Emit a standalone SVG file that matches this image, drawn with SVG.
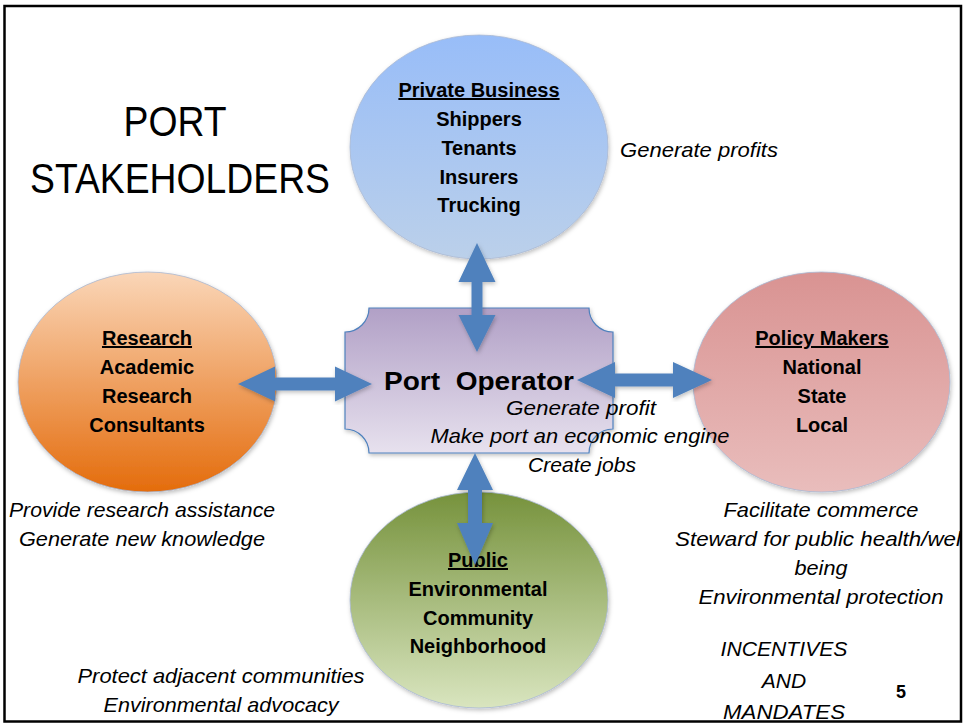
<svg xmlns="http://www.w3.org/2000/svg" width="964" height="724" viewBox="0 0 964 724">
<defs>
<linearGradient id="gBlue" x1="0" y1="0" x2="0" y2="1"><stop offset="0" stop-color="#98bdf8"/><stop offset="1" stop-color="#bbd0ea"/></linearGradient>
<linearGradient id="gOrange" x1="0" y1="0" x2="0" y2="1"><stop offset="0" stop-color="#fad6b8"/><stop offset="1" stop-color="#e46c0c"/></linearGradient>
<linearGradient id="gRed" x1="0" y1="0" x2="0" y2="1"><stop offset="0" stop-color="#d99392"/><stop offset="1" stop-color="#e9bdbc"/></linearGradient>
<linearGradient id="gGreen" x1="0" y1="0" x2="0" y2="1"><stop offset="0" stop-color="#76923c"/><stop offset="1" stop-color="#d9e5bf"/></linearGradient>
<linearGradient id="gPurple" x1="0" y1="0" x2="0" y2="1"><stop offset="0" stop-color="#b1a0c6"/><stop offset="1" stop-color="#e7e1ee"/></linearGradient>
<filter id="sh" x="-10%" y="-10%" width="120%" height="120%"><feDropShadow dx="1" dy="2" stdDeviation="2" flood-color="#000" flood-opacity="0.25"/></filter>
</defs>
<style>
.ell{stroke:#a9b9d3;stroke-width:0.8;filter:url(#sh)}
.nt{font-family:"Liberation Sans",Arial,sans-serif;font-weight:bold;font-size:20px;text-anchor:middle;fill:#000}
.u{text-decoration:underline}
.it{font-family:"Liberation Sans",Arial,sans-serif;font-style:italic;font-size:21px;text-anchor:middle;fill:#000}
.arr{fill:#4f81bd;filter:url(#sh)}
.ttl{font-family:"Liberation Sans",Arial,sans-serif;font-size:42px;text-anchor:middle;fill:#000}
</style>
<rect x="0" y="0" width="964" height="724" fill="#fff"/>
<rect x="4.5" y="6" width="956.5" height="715.5" fill="none" stroke="#000" stroke-width="2.5"/>

<g id="title">
<text class="ttl" x="175" y="136" textLength="103" lengthAdjust="spacingAndGlyphs">PORT</text>
<text class="ttl" x="180" y="193" textLength="300" lengthAdjust="spacingAndGlyphs">STAKEHOLDERS</text>
</g>

<g id="private-business">
<ellipse class="ell" cx="479" cy="147" rx="129" ry="112" fill="url(#gBlue)"/>
<text class="nt u" x="479" y="97">Private Business</text>
<text class="nt" x="479" y="126">Shippers</text>
<text class="nt" x="479" y="155">Tenants</text>
<text class="nt" x="479" y="184">Insurers</text>
<text class="nt" x="479" y="212">Trucking</text>
</g>

<g id="research">
<ellipse class="ell" cx="147.5" cy="382" rx="129.5" ry="110" fill="url(#gOrange)"/>
<text class="nt u" x="147" y="345">Research</text>
<text class="nt" x="147" y="374">Academic</text>
<text class="nt" x="147" y="403">Research</text>
<text class="nt" x="147" y="432">Consultants</text>
</g>

<g id="policy-makers">
<ellipse class="ell" cx="821.5" cy="382" rx="128.5" ry="110" fill="url(#gRed)"/>
<text class="nt u" x="822" y="345">Policy Makers</text>
<text class="nt" x="822" y="374">National</text>
<text class="nt" x="822" y="403">State</text>
<text class="nt" x="822" y="432">Local</text>
</g>

<g id="public">
<ellipse class="ell" cx="479" cy="600" rx="129" ry="108" fill="url(#gGreen)"/>
<text class="nt u" x="478" y="567">Public</text>
<text class="nt" x="478" y="596">Environmental</text>
<text class="nt" x="478" y="625">Community</text>
<text class="nt" x="478" y="653">Neighborhood</text>
</g>

<g id="port-operator">
<path d="M369,308 H589 A24 24 0 0 0 613,332 V429 A24 24 0 0 0 589,453 H369 A24 24 0 0 0 345,429 V332 A24 24 0 0 0 369,308 Z" fill="url(#gPurple)" stroke="#4f81bd" stroke-width="1.2" filter="url(#sh)"/>
<text x="479" y="390" font-family="'Liberation Sans',Arial,sans-serif" font-weight="bold" font-size="26" text-anchor="middle" xml:space="preserve" textLength="190" lengthAdjust="spacingAndGlyphs">Port  Operator</text>
</g>

<g id="connectors">
<polygon class="arr" points="477,243 495.5,282 482.5,282 482.5,315 495.5,315 477,352 458.5,315 471.5,315 471.5,282 458.5,282"/>
<polygon class="arr" points="238,384 275,366.5 275,377.5 335,377.5 335,366.5 372,384 335,401.5 335,390.5 275,390.5 275,401.5"/>
<polygon class="arr" points="577,380 615,362 615,373.5 673,373.5 673,362 712,380 673,398 673,386.5 615,386.5 615,398"/>
<polygon class="arr" points="475,453 493,490 482,490 482,523 493,523 475,565 457,523 468,523 468,490 457,490"/>
</g>

<g id="annotations">
<text class="it" x="699" y="157" textLength="158" lengthAdjust="spacingAndGlyphs">Generate profits</text>
<text class="it" x="581" y="415" textLength="150" lengthAdjust="spacingAndGlyphs">Generate profit</text>
<text class="it" x="580" y="443" textLength="299" lengthAdjust="spacingAndGlyphs">Make port an economic engine</text>
<text class="it" x="582" y="472" textLength="108" lengthAdjust="spacingAndGlyphs">Create jobs</text>
<text class="it" x="142" y="517" textLength="266" lengthAdjust="spacingAndGlyphs">Provide research assistance</text>
<text class="it" x="142" y="546" textLength="246" lengthAdjust="spacingAndGlyphs">Generate new knowledge</text>
<text class="it" x="821" y="517" textLength="195" lengthAdjust="spacingAndGlyphs">Facilitate commerce</text>
<text class="it" x="675" y="546" style="text-anchor:start" textLength="286" lengthAdjust="spacingAndGlyphs">Steward for public health/wel</text>
<text class="it" x="821" y="575" textLength="53" lengthAdjust="spacingAndGlyphs">being</text>
<text class="it" x="821" y="604" textLength="245" lengthAdjust="spacingAndGlyphs">Environmental protection</text>
<text class="it" x="221" y="683" textLength="287" lengthAdjust="spacingAndGlyphs">Protect adjacent communities</text>
<text class="it" x="221" y="712" textLength="235" lengthAdjust="spacingAndGlyphs">Environmental advocacy</text>
<text class="it" x="784" y="656" textLength="127" lengthAdjust="spacingAndGlyphs">INCENTIVES</text>
<text class="it" x="784" y="688">AND</text>
<text class="it" x="784" y="719" textLength="122" lengthAdjust="spacingAndGlyphs">MANDATES</text>
<text x="901" y="698" font-family="'Liberation Sans',Arial,sans-serif" font-weight="bold" font-size="18" text-anchor="middle">5</text>
</g>
</svg>
